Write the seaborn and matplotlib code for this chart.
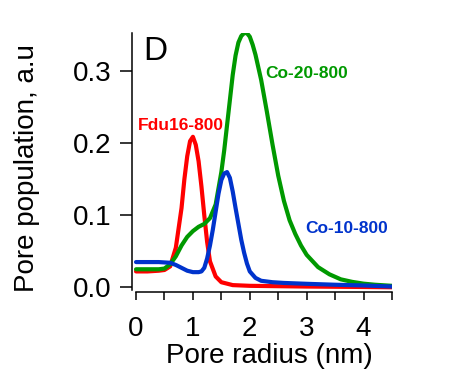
import matplotlib
matplotlib.use("Agg")
import matplotlib.pyplot as plt
import matplotlib.ticker as mticker
import numpy as np
import pandas as pd
import seaborn as sns

sns.set_style("ticks")
plt.rcParams["font.family"] = ["Liberation Sans", "DejaVu Sans"]
plt.rcParams.update({
    "text.color": "black",
    "axes.labelcolor": "black",
    "axes.edgecolor": "black",
    "xtick.color": "black",
    "ytick.color": "black",
})

# data
fdu_x = [0.0, 0.2, 0.4, 0.5, 0.6, 0.7, 0.8, 0.85, 0.9, 0.95, 1.0, 1.05, 1.1, 1.15, 1.2,
         1.25, 1.3, 1.4, 1.5, 1.7, 2.0, 2.5, 3.0, 3.5, 4.0, 4.5]
fdu_y = [0.022, 0.022, 0.023, 0.024, 0.029, 0.055, 0.11, 0.15, 0.182, 0.203, 0.209, 0.198,
         0.175, 0.14, 0.1, 0.063, 0.036, 0.015, 0.007, 0.003, 0.002, 0.0015, 0.001, 0.0007,
         0.0004, 0.0]

co20_x = [0.0, 0.2, 0.4, 0.5, 0.6, 0.7, 0.8, 0.9, 1.0, 1.1, 1.2, 1.3, 1.4, 1.5, 1.55, 1.6,
          1.65, 1.7, 1.75, 1.8, 1.85, 1.9, 1.95, 2.0, 2.05, 2.1, 2.2, 2.3, 2.4, 2.5, 2.6,
          2.7, 2.8, 2.9, 3.0, 3.2, 3.4, 3.6, 3.8, 4.0, 4.2, 4.5]
co20_y = [0.025, 0.025, 0.025, 0.026, 0.032, 0.043, 0.058, 0.07, 0.078, 0.084, 0.088,
          0.096, 0.115, 0.16, 0.19, 0.225, 0.26, 0.295, 0.322, 0.34, 0.349, 0.353, 0.353,
          0.348, 0.337, 0.323, 0.288, 0.244, 0.198, 0.155, 0.12, 0.093, 0.074, 0.058,
          0.045, 0.028, 0.018, 0.011, 0.0075, 0.005, 0.0035, 0.002]

co10_x = [0.0, 0.2, 0.4, 0.6, 0.7, 0.8, 0.9, 1.0, 1.1, 1.15, 1.2, 1.25, 1.3, 1.35, 1.4,
          1.45, 1.5, 1.55, 1.6, 1.65, 1.7, 1.75, 1.8, 1.85, 1.9, 1.95, 2.0, 2.1, 2.2, 2.4,
          2.6, 3.0, 3.5, 4.0, 4.5]
co10_y = [0.035, 0.035, 0.035, 0.034, 0.031, 0.027, 0.023, 0.021, 0.021, 0.022, 0.027,
          0.04, 0.058, 0.08, 0.105, 0.13, 0.149, 0.158, 0.16, 0.152, 0.133, 0.11, 0.088,
          0.066, 0.048, 0.033, 0.022, 0.013, 0.009, 0.007, 0.006, 0.0048, 0.0035, 0.0025,
          0.001]

labels = ["Fdu16-800", "Co-20-800", "Co-10-800"]
colors = ["#ff0000", "#009900", "#0033cc"]

df = pd.concat([
    pd.DataFrame({"x": fdu_x, "y": fdu_y, "sample": labels[0]}),
    pd.DataFrame({"x": co20_x, "y": co20_y, "sample": labels[1]}),
    pd.DataFrame({"x": co10_x, "y": co10_y, "sample": labels[2]}),
], ignore_index=True)

fig = plt.figure(figsize=(4.58, 3.81), dpi=100)
ax = fig.add_axes([131.7 / 458, 1 - 290 / 381, (392 - 131.7) / 458, (290 - 33) / 381])

sns.lineplot(data=df, x="x", y="y", hue="sample", palette=dict(zip(labels, colors)),
             estimator=None, sort=False, linewidth=3.0, legend=False, ax=ax)

ax.set_xlim(-0.076, 4.5)
ax.set_ylim(-0.0038, 0.3532)

for s in ["top", "right"]:
    ax.spines[s].set_visible(False)
ax.spines["left"].set_linewidth(1.1)
ax.spines["bottom"].set_linewidth(1.1)
ax.spines["bottom"].set_position(("outward", 1.3))
ax.spines["bottom"].set_bounds(0, 4.5)

ax.set_yticks([0.0, 0.1, 0.2, 0.3])
ax.yaxis.set_major_formatter(mticker.FormatStrFormatter("%.1f"))
ax.set_xticks([0, 1, 2, 3, 4])
ax.xaxis.set_minor_locator(mticker.FixedLocator([0.5, 1.5, 2.5, 3.5, 4.5]))
ax.tick_params(axis="y", length=9, width=1.1, pad=5.5, labelsize=20)
ax.tick_params(axis="x", which="both", length=5.5, width=1.1, pad=12, labelsize=20)

ax.set_xlabel("Pore radius (nm)", fontsize=20)
ax.set_ylabel("Pore population, a.u", fontsize=20)
ax.xaxis.set_label_coords(0.53, -0.205)
ax.yaxis.set_label_coords(-0.354, 0.475)

ax.text(0.04, 0.2185, "Fdu16-800", color=colors[0], fontsize=12.5, fontweight="bold",
        ha="left", va="baseline")
ax.text(2.27, 0.290, "Co-20-800", color=colors[1], fontsize=12.5, fontweight="bold",
        ha="left", va="baseline")
ax.text(2.975, 0.075, "Co-10-800", color=colors[2], fontsize=12.5, fontweight="bold",
        ha="left", va="baseline")
ax.text(0.043, 0.896, "D", transform=ax.transAxes, fontsize=24, ha="left", va="baseline")

fig.savefig("out.png", dpi=100)
